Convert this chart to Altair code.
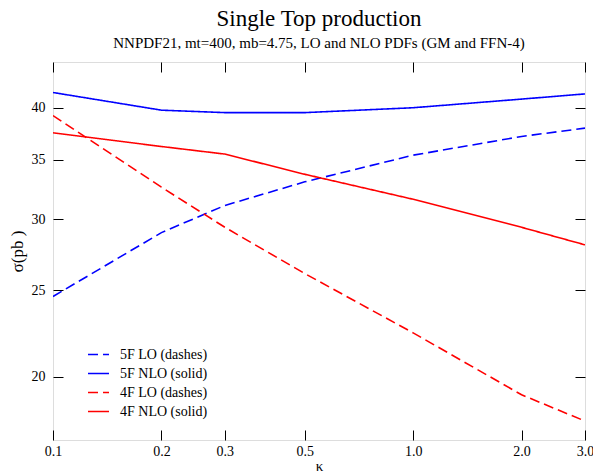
import altair as alt
import pandas as pd

# ---- data ----
kappa = [0.1, 0.2, 0.3, 0.5, 1.0, 2.0, 3.0]
sigma_5f_lo = [24.6, 29.0, 31.1, 33.05, 35.4, 37.15, 37.95]
sigma_5f_nlo = [41.6, 39.75, 39.5, 39.5, 40.0, 40.9, 41.45]
sigma_4f_lo = [39.2, 32.6, 29.4, 26.1, 22.4, 19.1, 17.85]
sigma_4f_nlo = [37.5, 36.2, 35.5, 33.7, 31.6, 29.4, 28.1]
series_names = ["5F LO (dashes)", "5F NLO (solid)", "4F LO (dashes)", "4F NLO (solid)"]
series_colors = ["#0000ff", "#0000ff", "#ff0000", "#ff0000"]
series_dashes = [[10, 5], [1, 0], [10, 5], [1, 0]]
x_ticks = [0.1, 0.2, 0.3, 0.5, 1.0, 2.0, 3.0]
y_ticks = [20, 25, 30, 35, 40]

rows = []
for name, vals in zip(series_names, [sigma_5f_lo, sigma_5f_nlo, sigma_4f_lo, sigma_4f_nlo]):
    for k, v in zip(kappa, vals):
        rows.append({"kappa": k, "sigma": v, "series": name})
df = pd.DataFrame(rows)

FONT = "Liberation Serif"
W, H = 532, 378
TICK = 10

xscale = alt.Scale(type="log", domain=[0.1, 3.0], nice=False)
yscale = alt.Scale(type="log", domain=[17, 45], nice=False, zero=False)

legend = alt.Legend(
    title=None, orient="none", legendX=34, legendY=281,
    symbolType="stroke", symbolSize=441, symbolStrokeWidth=1.6,
    labelFont=FONT, labelFontSize=14, labelColor="black", labelOffset=10,
    rowPadding=-4,
)

lines = alt.Chart(df).mark_line(strokeWidth=1.6, clip=True).encode(
    x=alt.X("kappa:Q", scale=xscale,
            axis=alt.Axis(orient="bottom", values=x_ticks, format=".1f",
                          offset=-TICK, tickSize=TICK, domain=False, grid=False,
                          labelFlush=False, labelOverlap=False,
                          labelPadding=4, labelFont=FONT, labelFontSize=14,
                          labelColor="black", tickColor="black",
                          title="κ", titleFont=FONT, titleFontSize=15,
                          titleFontWeight="normal", titleColor="black",
                          titlePadding=0)),
    y=alt.Y("sigma:Q", scale=yscale,
            axis=alt.Axis(orient="left", values=y_ticks, format="d",
                          offset=-TICK, tickSize=TICK, domain=False, grid=False,
                          labelFlush=False,
                          labelPadding=8, labelFont=FONT, labelFontSize=14,
                          labelColor="black", tickColor="black",
                          title="σ(pb )", titleFont=FONT, titleFontSize=17,
                          titleFontWeight="normal", titleColor="black",
                          titlePadding=5)),
    color=alt.Color("series:N", scale=alt.Scale(domain=series_names, range=series_colors),
                    legend=legend),
    strokeDash=alt.StrokeDash("series:N",
                              scale=alt.Scale(domain=series_names, range=series_dashes),
                              legend=legend),
)

frame_axes = alt.Chart(df).mark_point(opacity=0).encode(
    x=alt.X("kappa:Q", scale=xscale,
            axis=alt.Axis(orient="top", values=x_ticks, labels=False,
                          offset=-TICK, tickSize=TICK, domain=False, grid=False,
                          tickColor="black", title=None)),
    y=alt.Y("sigma:Q", scale=yscale,
            axis=alt.Axis(orient="right", values=y_ticks, labels=False,
                          offset=-TICK, tickSize=TICK, domain=False, grid=False,
                          tickColor="black", title=None)),
)

chart = alt.layer(lines, frame_axes).resolve_axis(
    x="independent", y="independent"
).properties(
    width=W, height=H,
    padding={"left": 53, "top": 62, "right": 8, "bottom": 32},
    autosize=alt.AutoSizeParams(type="none"),
    title=alt.TitleParams(
        "Single Top production",
        subtitle="NNPDF21, mt=400, mb=4.75, LO and NLO PDFs (GM and FFN-4)",
        font=FONT, fontSize=23, fontWeight="normal", color="black",
        subtitleFont=FONT, subtitleFontSize=15, subtitleColor="black",
        subtitlePadding=5, anchor="middle", offset=11,
    ),
).configure_view(
    stroke="black", strokeWidth=1.5
).configure(background="white")

chart.save("out.html", embed_options={"renderer": "svg", "actions": False})
